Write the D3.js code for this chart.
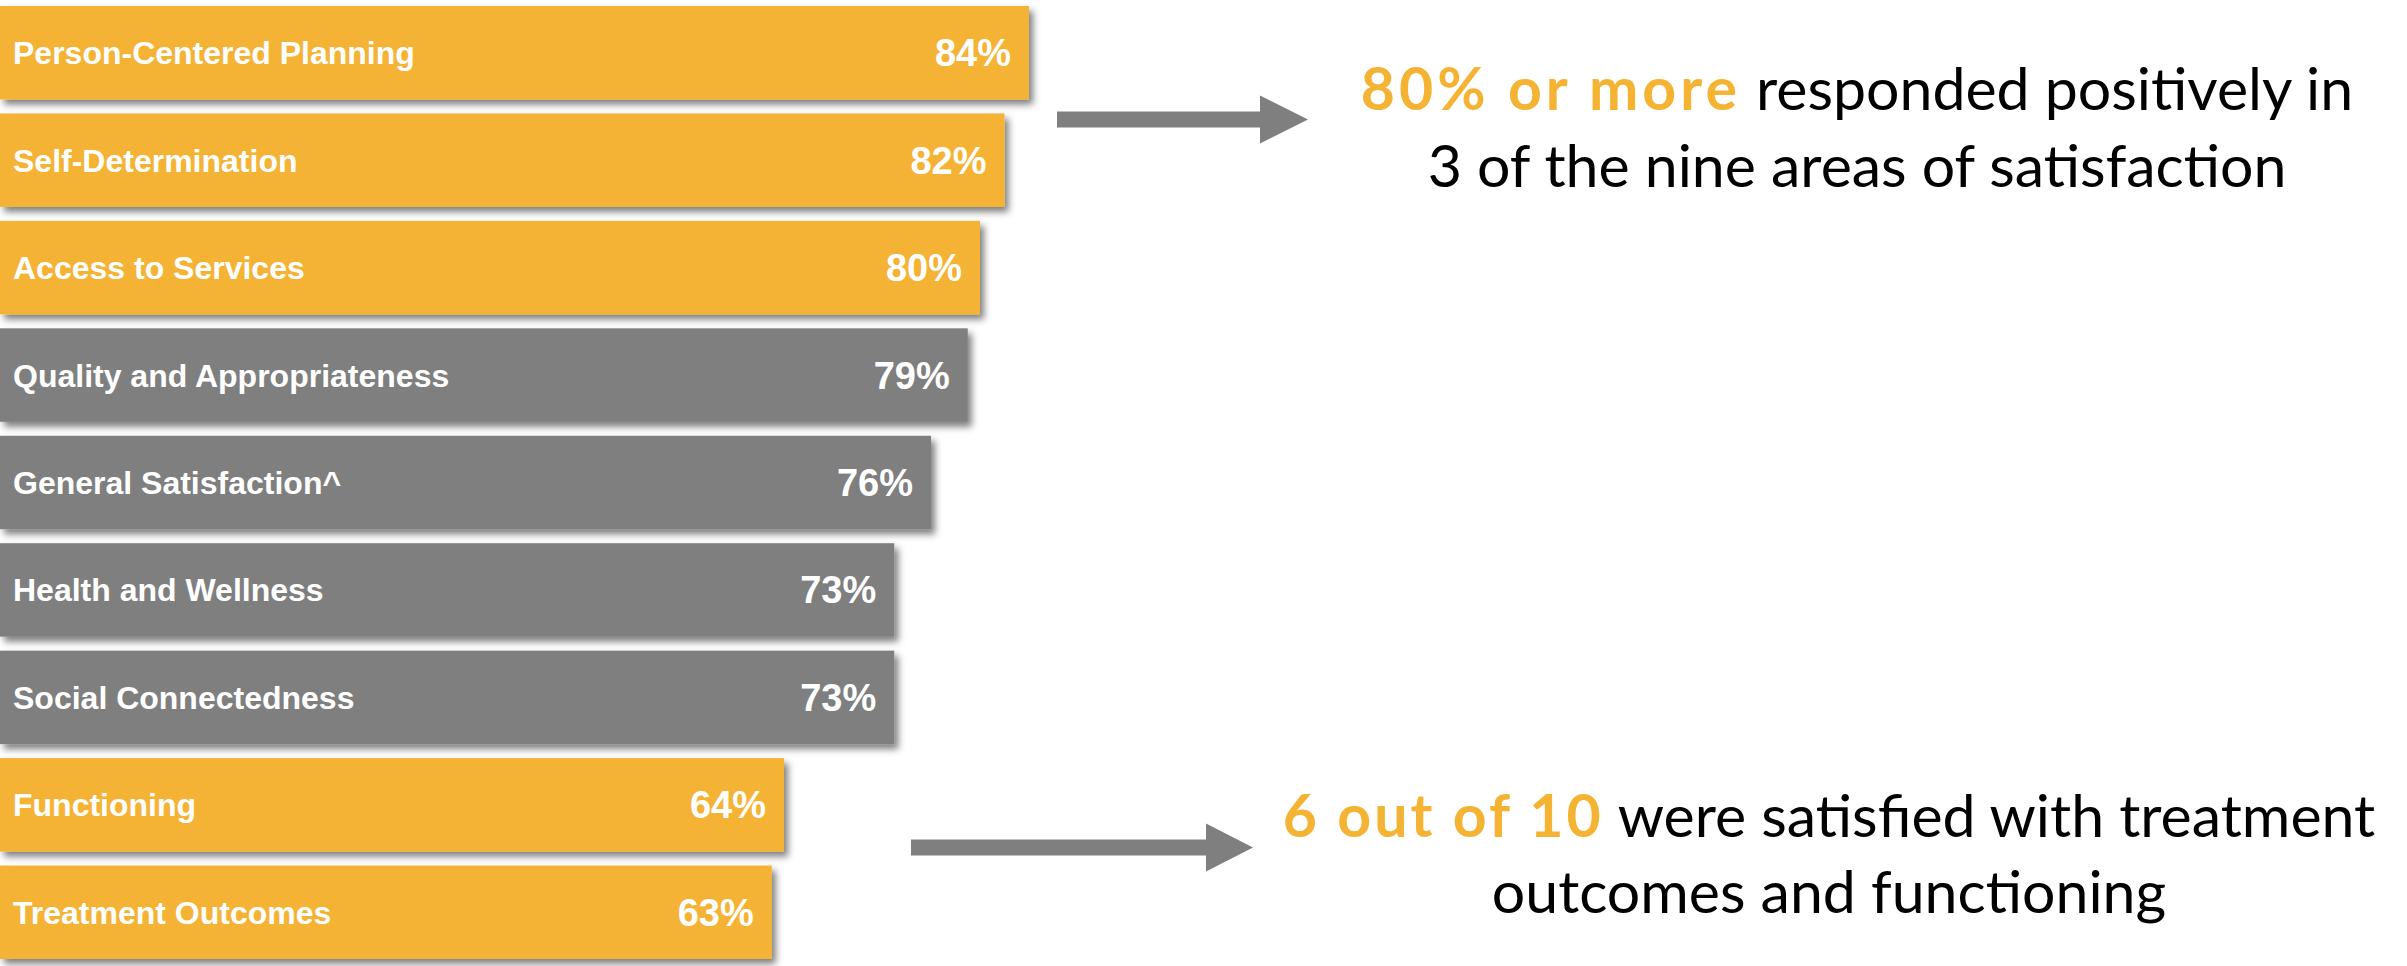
<!DOCTYPE html>
<html>
<head>
<meta charset="utf-8">
<script src="https://cdn.jsdelivr.net/npm/d3@7"></script>
<style>
  html, body { margin: 0; padding: 0; background: #ffffff; }
  svg { display: block; }
</style>
</head>
<body>
<svg id="chart" width="2407" height="966"></svg>
<script>
// Satisfaction areas, share responding positively (%)
const categories = [
  "Person-Centered Planning",
  "Self-Determination",
  "Access to Services",
  "Quality and Appropriateness",
  "General Satisfaction^",
  "Health and Wellness",
  "Social Connectedness",
  "Functioning",
  "Treatment Outcomes"
];
const values = [84, 82, 80, 79, 76, 73, 73, 64, 63];
// Areas called out in the notes on the right are drawn in the accent colour
const highlighted = [true, true, true, false, false, false, false, true, true];

const calloutTop = [
  [{ text: "80% or more", accent: true }, { text: " responded positively in", accent: false }],
  [{ text: "3 of the nine areas of satisfaction", accent: false }]
];
const calloutBottom = [
  [{ text: "6 out of 10", accent: true }, { text: " were satisfied with treatment", accent: false }],
  [{ text: "outcomes and functioning", accent: false }]
];

const ACCENT = "#F5B334";
const GREY = "#7F7F7F";

const svg = d3.select("#chart");

// Soft drop shadow under every bar
const defs = svg.append("defs");
const f = defs.append("filter").attr("id", "barShadow")
  .attr("x", "-5%").attr("y", "-20%").attr("width", "115%").attr("height", "160%");
f.append("feDropShadow")
  .attr("dx", 4).attr("dy", 5).attr("stdDeviation", 3.5)
  .attr("flood-color", "#000").attr("flood-opacity", 0.5);

const x = d3.scaleLinear().domain([0, 100]).range([0, 1225]);
const y = d3.scaleBand().domain(categories).range([6, 959]).paddingInner(0.13).paddingOuter(0);

const rows = categories.map((c, i) => ({ name: c, value: values[i], hi: highlighted[i] }));

const bars = svg.append("g");
bars.selectAll("rect").data(rows).join("rect")
  .attr("x", x(0))
  .attr("y", d => y(d.name))
  .attr("width", d => x(d.value) - x(0))
  .attr("height", y.bandwidth())
  .attr("fill", d => d.hi ? ACCENT : GREY)
  .attr("filter", "url(#barShadow)");

const labelFont = "'Liberation Sans', Arial, sans-serif";

svg.append("g").selectAll("text").data(rows).join("text")
  .attr("x", 13)
  .attr("y", d => y(d.name) + y.bandwidth() / 2 + 11.5)
  .attr("fill", "#fff")
  .attr("font-family", labelFont)
  .attr("font-weight", "bold")
  .attr("font-size", 32)
  .text(d => d.name);

svg.append("g").selectAll("text").data(rows).join("text")
  .attr("x", d => x(d.value) - 18)
  .attr("y", d => y(d.name) + y.bandwidth() / 2 + 13.5)
  .attr("text-anchor", "end")
  .attr("fill", "#fff")
  .attr("font-family", labelFont)
  .attr("font-weight", "bold")
  .attr("font-size", 38)
  .text(d => d.value + "%");

// Block arrows pointing from the bars to the notes
function blockArrow(x0, x1, xTip, cy, shaft, head) {
  const p = d3.path();
  p.moveTo(x0, cy - shaft / 2);
  p.lineTo(x1, cy - shaft / 2);
  p.lineTo(x1, cy - head / 2);
  p.lineTo(xTip, cy);
  p.lineTo(x1, cy + head / 2);
  p.lineTo(x1, cy + shaft / 2);
  p.lineTo(x0, cy + shaft / 2);
  p.closePath();
  return p.toString();
}
const arrows = svg.append("g").attr("fill", GREY);
arrows.append("path").attr("d", blockArrow(1057, 1260, 1308, 119.5, 16, 48));
arrows.append("path").attr("d", blockArrow(911, 1206, 1253, 847.5, 16, 48));

// Notes
const noteFont = "Lato, 'Open Sans', sans-serif";
function note(lines, cx, baseline0, lineGap, accentSpacing) {
  const g = svg.append("g")
    .attr("font-family", noteFont)
    .attr("font-size", 59)
    .attr("text-anchor", "middle");
  lines.forEach((parts, i) => {
    const t = g.append("text").attr("x", cx).attr("y", baseline0 + i * lineGap);
    parts.forEach(p => {
      t.append("tspan")
        .attr("fill", p.accent ? ACCENT : "#000")
        .attr("font-weight", p.accent ? "bold" : "normal")
        .attr("letter-spacing", p.accent ? accentSpacing : 0)
        .text(p.text);
    });
  });
}
note(calloutTop, 1857, 110, 77, 4);
note(calloutBottom, 1829, 837, 76, 3);
</script>
</body>
</html>
